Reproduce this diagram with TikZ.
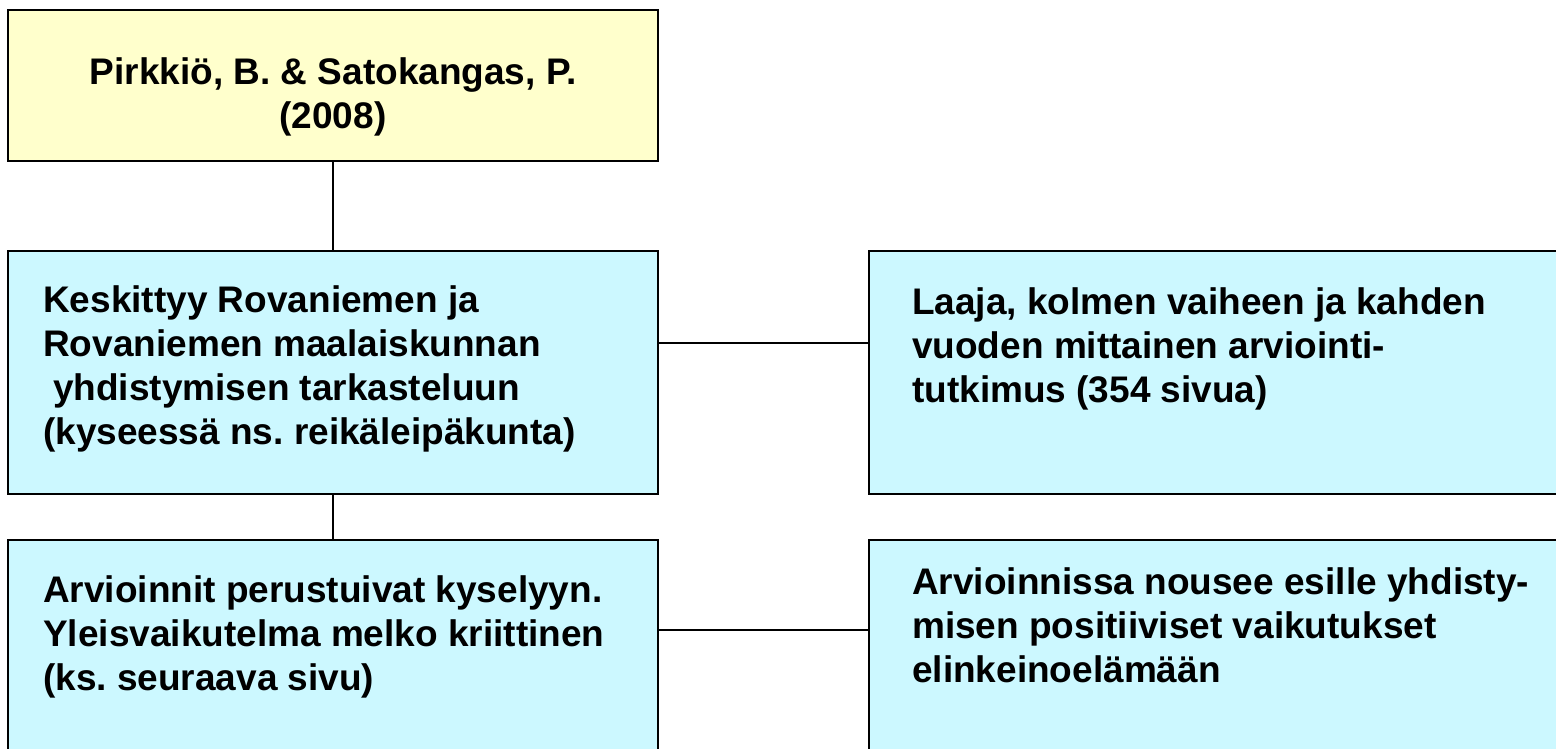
\documentclass[tikz,border=0pt]{standalone}
\usepackage{fontspec}
\setmainfont{Liberation Sans}
\usetikzlibrary{positioning}
\frenchspacing

\definecolor{refyellow}{RGB}{255,255,204}
\definecolor{refcyan}{RGB}{204,248,255}

\begin{document}
\begin{tikzpicture}[x=1pt,y=-1pt]

\tikzset{BoxStyle/.style = {
 draw = black,
 line width = 2.5pt,
 inner sep = 0pt,
 outer sep = 0pt,
 anchor = north west} }
\tikzset{TextStyle/.style = {
 anchor = north west,
 inner sep = 0pt,
 align = left,
 font = \bfseries\fontsize{37}{44}\selectfont} }
\tikzset{LinkStyle/.style = {line width = 1.8pt} }

\useasboundingbox (0,0) rectangle (1556,749);
\clip (0,0) rectangle (1556,749);

\node[BoxStyle, fill=refyellow, minimum width=650pt, minimum height=151pt] (B1) at (8,10) {};
\node[BoxStyle, fill=refcyan, minimum width=650pt, minimum height=243pt] (B2) at (8,251) {};
\node[BoxStyle, fill=refcyan, minimum width=720pt, minimum height=243pt] (B3) at (869,251) {};
\node[BoxStyle, fill=refcyan, minimum width=650pt, minimum height=260pt] (B4) at (8,540) {};
\node[BoxStyle, fill=refcyan, minimum width=720pt, minimum height=260pt] (B5) at (869,540) {};

\node[TextStyle, anchor=north, align=center] (T1) at ([yshift=-47pt]B1.north)
 {Pirkkiö, B. \& Satokangas, P.\\(2008)};
\node[TextStyle] (T2) at ([xshift=35pt, yshift=-34pt]B2.north west)
 {Keskittyy Rovaniemen ja\\Rovaniemen maalaiskunnan\\\hspace*{10pt}yhdistymisen tarkasteluun\\(kyseessä ns. reikäleipäkunta)};
\node[TextStyle] (T3) at ([xshift=43pt, yshift=-36pt]B3.north west)
 {Laaja, kolmen vaiheen ja kahden\\vuoden mittainen arviointi-\\tutkimus (354 sivua)};
\node[TextStyle] (T4) at ([xshift=35pt, yshift=-35pt]B4.north west)
 {Arvioinnit perustuivat kyselyyn.\\Yleisvaikutelma melko kriittinen\\(ks. seuraava sivu)};
\node[TextStyle] (T5) at ([xshift=43pt, yshift=-27pt]B5.north west)
 {Arvioinnissa nousee esille yhdisty-\\misen positiiviset vaikutukset\\elinkeinoelämään};

\draw[LinkStyle] (B1.south) -- (B2.north);
\draw[LinkStyle] (B2.south) -- (B4.north);
\draw[LinkStyle] ([yshift=29.5pt]B2.east) -- ([yshift=29.5pt]B3.west);
\draw[LinkStyle] ([yshift=40pt]B4.east) -- ([yshift=40pt]B5.west);

\end{tikzpicture}
\end{document}
